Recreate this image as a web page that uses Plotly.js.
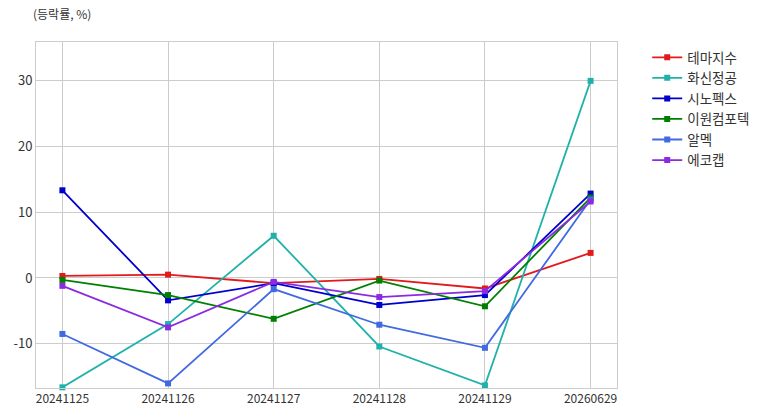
<!DOCTYPE html>
<html>
<head>
<meta charset="utf-8">
<script src="https://cdn.plot.ly/plotly-3.0.1.min.js"></script>
<style>html,body{margin:0;padding:0;background:#fff;}#chart{width:773px;height:416px;}</style>
</head>
<body>
<div id="chart"></div>
<script>
const dates = ['20241125','20241126','20241127','20241128','20241129','20260629'];
const names = ['테마지수','화신정공','시노펙스','이원컴포텍','알멕','에코캡'];
const themeIdx = [0.3, 0.5, -0.8, -0.15, -1.6, 3.8];
const hwasin = [-16.6, -7.0, 6.4, -10.4, -16.3, 29.9];
const sinopex = [13.3, -3.4, -0.8, -4.1, -2.6, 12.8];
const iwon = [-0.3, -2.6, -6.2, -0.4, -4.3, 12.2];
const almek = [-8.5, -16.0, -1.7, -7.1, -10.6, 11.9];
const ecocap = [-1.2, -7.5, -0.6, -2.9, -2.0, 11.6];
const yTickVals = [-10, 0, 10, 20, 30];
const yTickText = ['-10', '0', '10', '20', '30'];
const seriesVals = [themeIdx, hwasin, sinopex, iwon, almek, ecocap];
const colors = ['#e31a1c', '#20b2aa', '#0000cd', '#008000', '#4169e1', '#8a2be2'];

const traces = names.map((n, i) => ({
  x: dates, y: seriesVals[i], name: n, type: 'scatter', mode: 'lines+markers',
  line: {color: colors[i], width: 1.8},
  marker: {symbol: 'square', size: 6, color: colors[i]},
  cliponaxis: false
}));

const layout = {
  width: 773, height: 416,
  margin: {l: 36, r: 156, t: 42, b: 28},
  paper_bgcolor: '#fff', plot_bgcolor: '#fff',
  font: {family: '"Noto Sans CJK KR", "Noto Sans", sans-serif', color: '#333'},
  title: {text: '(등락률, %)', x: 33/773, xref: 'container', xanchor: 'left', y: 1 - 15/416, yref: 'container', yanchor: 'middle', font: {size: 12, color: '#333'}},
  xaxis: {type: 'category', range: [-0.25, 5.25], showgrid: true, gridcolor: '#cccccc', gridwidth: 1,
    showline: true, linecolor: '#cccccc', mirror: true, ticks: '', tickfont: {size: 12, color: '#333'}, zeroline: false},
  yaxis: {range: [-16.7, 35.8], tickmode: 'array', tickvals: yTickVals, ticktext: yTickText, showgrid: true, gridcolor: '#cccccc', gridwidth: 1,
    showline: true, linecolor: '#cccccc', mirror: true, ticks: '', tickfont: {size: 13, color: '#333'}, zeroline: false},
  legend: {x: 1.052, xanchor: 'left', y: 1.0, yanchor: 'top', font: {size: 13.5, color: '#333'}, bgcolor: 'rgba(0,0,0,0)'},
  showlegend: true
};
Plotly.newPlot('chart', traces, layout, {displayModeBar: false, staticPlot: true});
</script>
</body>
</html>
